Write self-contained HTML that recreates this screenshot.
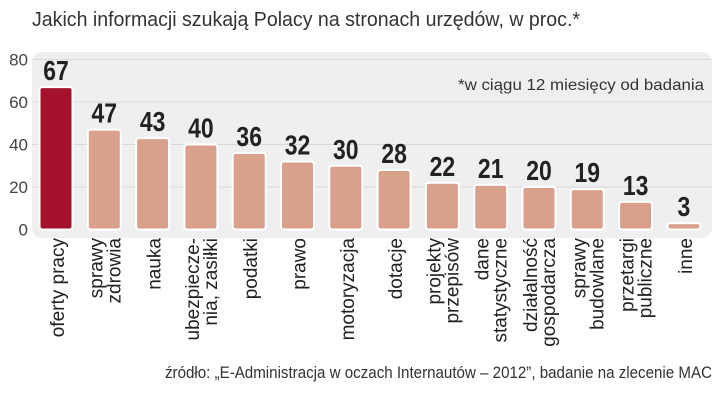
<!DOCTYPE html>
<html><head><meta charset="utf-8"><style>
html,body{margin:0;padding:0;background:#fff;}
svg{display:block;font-family:"Liberation Sans",sans-serif;}
</style></head><body>
<svg id="chart" width="720" height="406" viewBox="0 0 720 406">
<text x="32" y="26" font-size="20" fill="#333" textLength="548" lengthAdjust="spacingAndGlyphs">Jakich informacji szukają Polacy na stronach urzędów, w proc.*</text>
<rect x="32" y="52" width="680" height="186" rx="10" fill="#efefef"/>
<g id="grid"></g>
<g id="bars"></g>
<g id="labels"></g>
<text x="458" y="90" font-size="16" fill="#333" textLength="246" lengthAdjust="spacingAndGlyphs">*w ciągu 12 miesięcy od badania</text>
<text x="165" y="378" font-size="17" fill="#333" textLength="547" lengthAdjust="spacingAndGlyphs">źródło: „E-Administracja w oczach Internautów – 2012”, badanie na zlecenie MAC</text>
</svg>
<script>
const categories = [["oferty pracy"],["sprawy","zdrowia"],["nauka"],["ubezpiecze-","nia, zasiłki"],["podatki"],["prawo"],["motoryzacja"],["dotacje"],["projekty","przepisów"],["dane","statystyczne"],["działalność","gospodarcza"],["sprawy","budowlane"],["przetargi","publiczne"],["inne"]];
const values = [67,47,43,40,36,32,30,28,22,21,20,19,13,3];
const yTicks = [0,20,40,60,80];
const NS="http://www.w3.org/2000/svg";
const y0=229.5, pxPer=(229.5-59.5)/80;
const yScale=v=>y0-v*pxPer;
const xCenter=i=>56+i*48.3;
const bw=33;
function mk(tag,attrs,parent){const e=document.createElementNS(NS,tag);for(const k in attrs)e.setAttribute(k,attrs[k]);parent.appendChild(e);return e;}
const grid=document.getElementById('grid'),bars=document.getElementById('bars'),labels=document.getElementById('labels');
yTicks.forEach(t=>{
  if(t>0){const l=mk('line',{x1:32,x2:712,y1:yScale(t),y2:yScale(t),stroke:'#d8d8d8','stroke-width':1},grid);
  
  }
  const tx=mk('text',{x:28,y:yScale(t)+6,'font-size':17,fill:'#444','text-anchor':'end'},grid);
  tx.textContent=t;
  
  
});
values.forEach((v,i)=>{
  const cx=xCenter(i),top=yScale(v);
  const r=mk('rect',{x:cx-bw/2,y:top,width:bw,height:Math.max(y0-top,3),rx:3,fill:i===0?'#a5122b':'#d9a08c',stroke:'#fff','stroke-width':2},bars);
  
  
  const vt=mk('text',{x:0,y:0,'font-size':28,'font-weight':'bold',fill:'#222','text-anchor':'middle',transform:`translate(${cx},${top-7}) scale(0.82,1)`},bars);
  vt.textContent=v;
  
  
  const lines=categories[i];
  lines.forEach((ln,j)=>{
    const bx=lines.length===1?cx+8:(j===0?cx-2:cx+16);
    const t=mk('text',{x:0,y:0,'font-size':19,fill:'#222','text-anchor':'end',transform:`translate(${bx},238) rotate(-90)`},labels);
    t.textContent=ln;
    
    
  });
});
</script>
</body></html>
